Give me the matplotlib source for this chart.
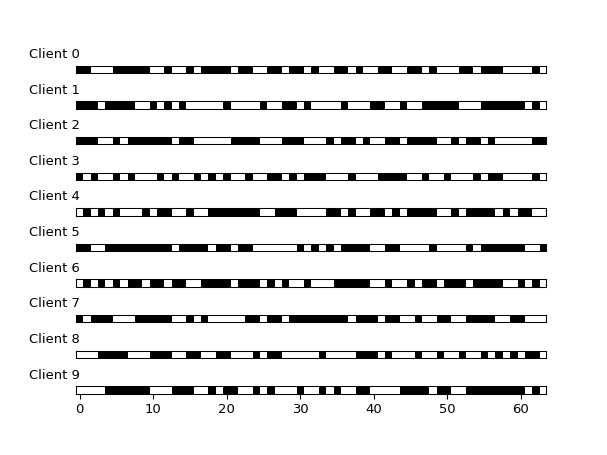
import numpy as np
import matplotlib
matplotlib.use("Agg")
import matplotlib.pyplot as plt

# 1 = black (client selected), 0 = white, 64 rounds per client
client_rows = [
    "11 000 11111 00 1 00 1 0 1111 0 11 00 11 0 11 0 1 00 11 0 1 00 11 00 11 0 1 000 11 0 111 0000 1 0",
    "111 0 1111 00 1 0 1 0 1 00000 1 0000 1 00 11 0 1 0000 1 000 11 00 1 00 11111 000 111111 0 1 0",
    "111 00 1 0 111111 0 11 00000 1111 000 111 000 1 0 11 0 1 00 11 0 1111 00 1 0 11 0 1 00000 11",
    "1 0 1 00 1 0 1 000 1 0 1 00 1 0 1 0 1 00 1 00 11 0 1 0 111 000 1 000 1111 00 1 00 1 000 1 0 11 0000 1 0",
    "0 1 0 1 0 1 000 1 0 11 00 1 00 1111111 00 111 0000 11 0 1 00 11 0 1 0 1111 00 1 0 1111 0 1 0 11 00",
    "11 00 111111111 0 1111 0 11 0 11 000000 1 0 1 0 1 0 1111 00 11 0000 1 0000 1 0 111111 00 1",
    "0 1 0 1 0 1 0 11 0 11 0 11 00 1111 0 111 0 1 0 1 00 1 000 11111 00 1 00 1 0 11 0 111 0 1111 00 1 0 1 0",
    "1 0 111 000 11111 00 1 0 1 00000 11 0 11 0 11111111 0 111 0 11 00 1 00 11 00 1111 00 11 000",
    "000 1111 000 111 00 11 00 11 000 1 0 11 00000 1 0000 111 0 1 000 1 00 1 00 1 00 1 0 1 0 1 0 11 0",
    "0000 111111 000 111 00 1 0 11 00 1 0 1 000 1 00 1 0 1 00 11 0000 1111 0 11 00 11111111 0 1 0",
]
client_names = [f"Client {i}" for i in range(len(client_rows))]

masks = [np.array([int(c) for c in row.replace(" ", "")]) for row in client_rows]

fig, axes = plt.subplots(len(masks), 1, figsize=(6.4, 4.8), dpi=607 / 6.4)

for i, (ax, mask) in enumerate(zip(axes, masks)):
    ax.imshow(mask[np.newaxis, :], cmap="binary", vmin=0, vmax=1)
    ax.set_title(client_names[i], loc="left", x=-0.1, fontsize=10)
    ax.set_yticks([])
    if i < len(masks) - 1:
        ax.set_xticks([])

fig.savefig("out.png")
